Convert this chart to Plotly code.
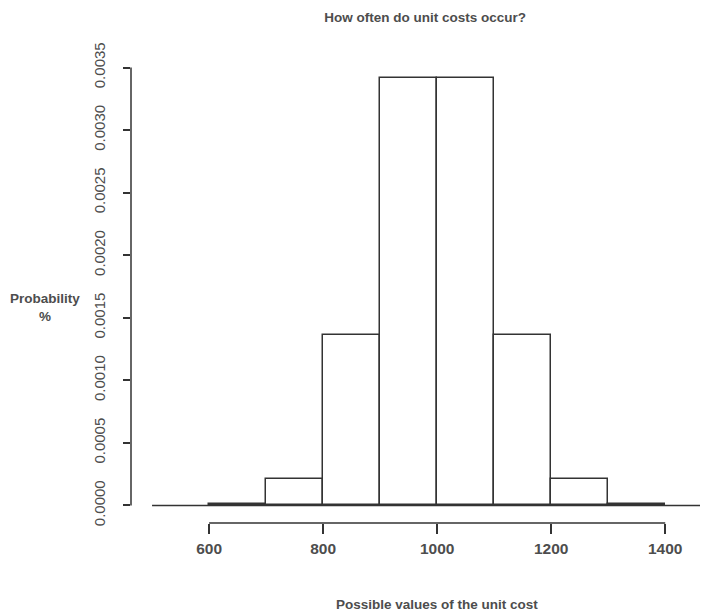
import plotly.graph_objects as go

bin_left = [600, 700, 800, 900, 1000, 1100, 1200, 1300]
bin_width = 100
density = [0.0000132, 0.000214, 0.001359, 0.003413, 0.003413, 0.001359, 0.000214, 0.0000132]
x_ticks = [600, 800, 1000, 1200, 1400]
y_ticks = [0.0, 0.0005, 0.0010, 0.0015, 0.0020, 0.0025, 0.0030, 0.0035]

mids = [b + bin_width / 2 for b in bin_left]
LINE = "#333333"
TXT = "#4d4d4d"
FONT = "Liberation Sans, Arial, sans-serif"

fig = go.Figure()
fig.add_trace(go.Bar(
    x=mids, y=density, width=[bin_width] * len(mids),
    marker=dict(color="white", line=dict(color=LINE, width=1.5)),
    hoverinfo="skip",
))

fig.update_layout(
    width=703, height=603,
    margin=dict(l=123, r=11, t=42, b=88),
    plot_bgcolor="white", paper_bgcolor="white",
    showlegend=False,
    bargap=0,
    font=dict(family=FONT, color=TXT),
    title=dict(text="<b>How often do unit costs occur?</b>", xref="paper", x=0.517, xanchor="center",
               y=0.984, yanchor="middle", font=dict(size=13.5, color=TXT)),
    xaxis=dict(range=[463, 1461], tickvals=x_ticks,
               ticktext=["<b>%d</b>" % v for v in x_ticks],
               ticks="outside", ticklen=10,
               tickwidth=1.5, tickcolor=LINE, showline=False, showgrid=False, zeroline=False,
               tickfont=dict(size=15.5, color=TXT, family=FONT), ticklabelstandoff=1),
    yaxis=dict(range=[-0.00014, 0.00364], tickvals=y_ticks,
               ticktext=["%.4f" % v for v in y_ticks],
               ticks="outside", ticklen=7, tickwidth=1.5, tickcolor=LINE,
               showline=False, showgrid=False, zeroline=False, tickangle=-90,
               ticklabelstandoff=12,
               tickfont=dict(size=15, color=TXT, family=FONT)),
)

# R-style detached axis lines spanning the tick range
fig.add_shape(type="line", xref="x", yref="paper", x0=x_ticks[0], x1=x_ticks[-1], y0=0, y1=0,
              line=dict(color=LINE, width=1.5))
fig.add_shape(type="line", xref="paper", yref="y", x0=0, x1=0, y0=y_ticks[0], y1=y_ticks[-1],
              line=dict(color=LINE, width=1.5))
# baseline at zero
fig.add_shape(type="line", xref="paper", yref="y", x0=0.037, x1=1, y0=0, y1=0,
              line=dict(color=LINE, width=1.5))

fig.add_annotation(text="<b>Probability<br>%</b>", xref="paper", yref="paper",
                   x=-0.151, y=0.455, xanchor="center", yanchor="middle", showarrow=False,
                   font=dict(size=13.5, color=TXT))
fig.add_annotation(text="<b>Possible values of the unit cost</b>", xref="paper", yref="paper",
                   x=0.538, y=-0.173, xanchor="center", yanchor="middle", showarrow=False,
                   font=dict(size=13.5, color=TXT))

fig.write_html("out.html")
